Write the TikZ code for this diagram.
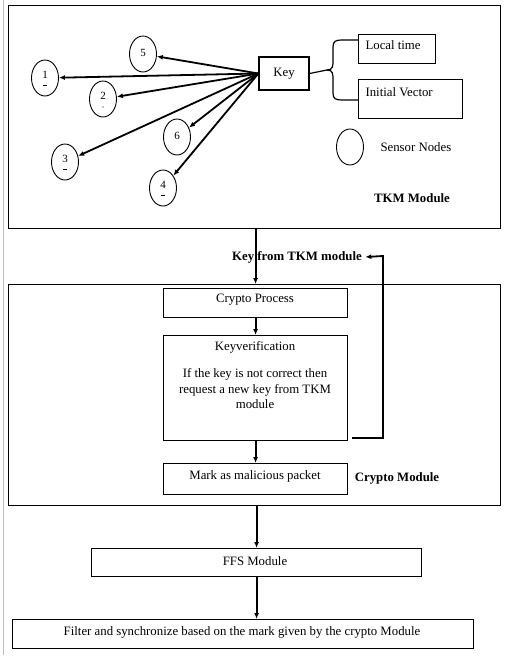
\documentclass[tikz,border=0pt]{standalone}
\usepackage{fontspec}
\setmainfont{Liberation Serif}
\usetikzlibrary{arrows.meta,positioning,shapes.geometric}
\begin{document}
\begin{tikzpicture}[x=1pt,y=-1pt,
  box/.style={draw, line width=1.2pt, inner sep=0pt},
  frame/.style={draw, line width=1.2pt},
  sensor/.style={draw, ellipse, line width=0.9pt, minimum width=27pt, minimum height=36pt, inner sep=0pt, font=\fontsize{11}{11}\selectfont},
  arr/.style={line width=1.8pt, -{Latex[length=6pt,width=5pt]}},
  tick/.style={line width=0.7pt},
  txt/.style={font=\fontsize{12.8}{15.5}\selectfont},
  btxt/.style={font=\fontsize{12.8}{15.5}\selectfont\bfseries}
]
\useasboundingbox (0,0) rectangle (514,665);
% page-edge line
\draw[gray!50, line width=0.8pt] (3,0) -- (3,655);
% TKM module frame
\node[frame, minimum width=492pt, minimum height=223pt, anchor=north west] (tkm) at (8,5) {};
\node[box, minimum width=50pt, minimum height=33pt, txt] (key) at (284,73.5) {Key};
\node[box, minimum width=77pt, minimum height=29pt, anchor=north west] (lt) at (358,34) {};
\node[txt, anchor=west] (ltt) at (362,45) {Local time};
\node[box, minimum width=104pt, minimum height=39pt, anchor=north west] (iv) at (358,79) {};
\node[txt, anchor=west] (ivt) at (362,92) {Initial Vector};
% brace
\coordinate (bm) at (327,70);
\draw[line width=1.2pt] (key.east) -- (bm)
  .. controls (333,70) and (333,66) .. (333,60) -- (333,47)
  .. controls (333,41) and (336,40) .. (342,40) -- (lt.west |- 0,40);
\draw[line width=1.2pt] (bm)
  .. controls (333,70) and (333,74) .. (333,80) -- (333,93)
  .. controls (333,99) and (336,100) .. (342,100) -- (iv.west |- 0,100);
% sensor nodes
\node[sensor, text depth=6pt] (n1) at (45,78) {1};
\node[sensor, text depth=2pt] (n5) at (143,54) {5};
\node[sensor, text depth=6pt] (n2) at (103,99) {2};
\node[sensor, text depth=2pt] (n6) at (177,137) {6};
\node[sensor, text depth=6pt] (n3) at (65,162) {3};
\node[sensor, text depth=6pt] (n4) at (163,188) {4};
\draw[tick] ([xshift=-1.6pt,yshift=-7pt]n1.center) -- ([xshift=1.6pt,yshift=-7pt]n1.center);
\draw[tick] ([xshift=-1.6pt,yshift=-7pt]n3.center) -- ([xshift=1.6pt,yshift=-7pt]n3.center);
\draw[tick] ([xshift=-1.6pt,yshift=-7pt]n4.center) -- ([xshift=1.6pt,yshift=-7pt]n4.center);
\fill ([yshift=-8pt]n2.center) circle (0.7pt);
\node[sensor] (leg) at (350,147) {};
\node[txt, anchor=west] (legt) at (377,147) {Sensor Nodes};
\node[btxt] (tkmlbl) at (412,198) {TKM Module};
\foreach \n in {n1,n5,n2,n6,n3,n4}{
  \draw[arr] (key.west) -- (\n);
}
% crypto module frame
\node[frame, minimum width=492pt, minimum height=221pt, anchor=north west] (cm) at (8,284) {};
\node[btxt] (kft) at (297,257) {Key from TKM module};
\node[box, minimum width=184pt, minimum height=29pt, anchor=north west] (cp) at (163,288) {};
\node[txt] (cpt) at (255,300) {Crypto Process};
\node[box, minimum width=184pt, minimum height=105pt, anchor=north west] (kv) at (163,335) {};
\node[txt] (kvt) at (255,347) {Keyverification};
\node[txt, align=center] (kvp) at (255,389) {If the key is not correct then\\request a new key from TKM\\module};
\node[box, minimum width=184pt, minimum height=31pt, anchor=north west] (mk) at (163,463) {};
\node[txt] (mkt) at (255,476) {Mark as malicious packet};
\node[btxt] (cmlbl) at (397,478) {Crypto Module};
% FFS and filter
\node[box, minimum width=330pt, minimum height=28pt, anchor=north west] (ffs) at (91,548) {};
\node[txt] (ffst) at (255,561) {FFS Module};
\node[box, minimum width=461pt, minimum height=29pt, anchor=north west] (flt) at (12,619) {};
\node[txt] (fltt) at (242,632) {Filter and synchronize based on the mark given by the crypto Module};
% connectors
\draw[arr] (tkm.south -| cp.north) -- (cm.north -| cp.north);
\draw[arr] (cp.south) -- (kv.north);
\draw[arr] (kv.south) -- (mk.north);
\coordinate (fbs) at (352,438);
\coordinate (fbr) at (383,438);
\coordinate (fbt) at (383,256);
\draw[arr] (fbs) -- (fbr) -- (fbt) -- (kft.east);
\draw[arr] (cm.south -| ffs.north) -- (ffs.north);
\draw[arr] (ffs.south) -- (ffs.south |- flt.north);
\end{tikzpicture}
\end{document}
